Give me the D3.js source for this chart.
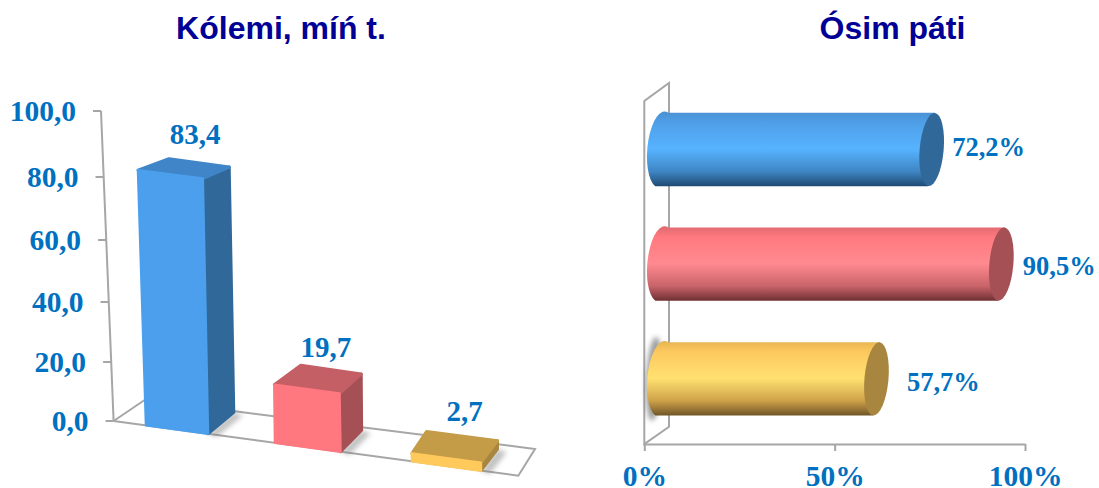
<!DOCTYPE html>
<html>
<head>
<meta charset="utf-8">
<script src="https://cdn.jsdelivr.net/npm/d3@7"></script>
<style>
html,body{margin:0;padding:0;background:#fff;overflow:hidden}
svg{display:block}
text{font-family:"Liberation Serif",serif;font-weight:bold;fill:#0070c0}
text.title{font-family:"Liberation Sans",sans-serif;fill:#000096}
</style>
</head>
<body>
<svg id="c" width="1099" height="488"></svg>
<script>
const seriesKeys = ["a", "b", "c"];
const volumeTitle = "Kólemi, míń t.";
const growthTitle = "Ósim páti";
const volumeValues = [83.4, 19.7, 2.7];
const growthValues = [72.2, 90.5, 57.7];
const volumeTicks = [0, 20, 40, 60, 80, 100];
const growthTicks = [0, 50, 100];
const frontColors = ["#4b9fec", "#ff7880", "#ffc95c"];
const sideColors = ["#31689a", "#a55055", "#a98640"];
const topColors = ["#3f85c8", "#c35f65", "#c49c48"];
const cylStops = [
  ["#4a90d2", "#4f9fe8", "#57b3ff", "#3f86c4", "#1f4a73"],
  ["#e0686f", "#ff7a80", "#ff8a90", "#c9646a", "#6e2f33"],
  ["#e6b350", "#fdc95f", "#ffe170", "#cfa24a", "#6f5526"]
];

const loc = d3.formatLocale({decimal: ",", thousands: " ", grouping: [3], currency: ["", ""]});
const f1 = loc.format(".1f");
const svg = d3.select("#c");
const defs = svg.append("defs");
const AXIS = "#a6a6a6";
defs.append("filter").attr("id", "blur").attr("x", "-50%").attr("y", "-50%").attr("width", "200%").attr("height", "200%")
  .append("feGaussianBlur").attr("stdDeviation", 2.5);
const lineGen = d3.line();

/* ---------- left chart ---------- */
svg.append("text").attr("class", "title").attr("x", 281).attr("y", 39).attr("text-anchor", "middle")
  .attr("font-size", 32).text(volumeTitle);

// perspective-compressed value axis
const yL = d3.scaleLinear().domain(volumeTicks).range([421, 362, 302, 240, 177, 111]);
const axisX = d3.scaleLinear().domain([0, 100]).range([113.6, 101]);
const floorLine = d3.scaleLinear().domain([113.6, 518.3]).range([421, 475.7]);

const gL = svg.append("g");
gL.append("path").attr("d", lineGen([[113.6, 421], [144.6, 400]])).attr("fill", "none").attr("stroke", AXIS).attr("stroke-width", 2);
gL.append("path").attr("d", lineGen([[233, 411], [535, 449], [518.3, 475.7], [113.6, 421]]))
  .attr("fill", "none").attr("stroke", AXIS).attr("stroke-width", 2);
gL.append("path").attr("d", lineGen([[axisX(100), yL(100)], [axisX(0), yL(0)]])).attr("stroke", AXIS).attr("stroke-width", 2).attr("fill", "none");
const tickL = gL.selectAll("g.t").data(volumeTicks).join("g").attr("class", "t");
tickL.append("line").attr("x1", d => axisX(d) - 8).attr("x2", d => axisX(d))
  .attr("y1", d => yL(d)).attr("y2", d => yL(d)).attr("stroke", AXIS).attr("stroke-width", 2);
tickL.append("text").attr("x", d => axisX(d) - 25).attr("y", d => yL(d) + 10)
  .attr("text-anchor", "end").attr("font-size", 29.5).text(d => f1(d));

const xL = d3.scaleOrdinal().domain(seriesKeys).range([146, 275, 412]);
const wL = d3.scaleLinear().domain([0, 2]).range([62, 69]);
const shearL = d3.scaleLinear().domain([0, 58, 255]).range([0, 0.7, 8]);
const shearR = d3.scaleLinear().domain([0, 58, 255]).range([0, 1, 5.2]);
const backDy = d3.scaleLinear().domain([7, 58, 255]).range([-22, -19.5, -11.5]);
const backDxL = d3.scaleLinear().domain([7, 58, 255]).range([14.5, 26.5, 31]);
const backDxR = d3.scaleLinear().domain([7, 58, 255]).range([16.5, 21.7, 26.4]);
const baseDx = d3.scaleLinear().domain([0, 2]).range([25.8, 16.5]);
const labelNudgeL = [-15, -8, -10.6];

const bars = seriesKeys.map((k, i) => {
  const h = yL(0) - yL(volumeValues[i]);
  const x0 = xL(k), w = wL(i);
  const BL = [x0, floorLine(x0)], BR = [x0 + w, floorLine(x0 + w)];
  const TL = [BL[0] - shearL(h), BL[1] - h], TR = [BR[0] - shearR(h), BR[1] - h];
  const TLb = [TL[0] + backDxL(h), TL[1] + backDy(h)], TRb = [TR[0] + backDxR(h), TR[1] + backDy(h)];
  const BRb = [BR[0] + baseDx(i), BR[1] - 21.5];
  return {i, BL, BR, TL, TR, TLb, TRb, BRb, x0, w};
});
const poly = pts => lineGen(pts) + "Z";
const gB = svg.append("g").attr("stroke-linejoin", "round");
gB.selectAll("path.shadow").data(bars).join("path").attr("class", "shadow")
  .attr("d", b => poly([b.BR, b.BRb, [b.BRb[0] + 9, b.BRb[1] + 3], [b.BR[0] + 9, b.BR[1] + 3]]))
  .attr("fill", "#777").attr("opacity", 0.45).attr("filter", "url(#blur)");
gB.selectAll("path.side").data(bars).join("path").attr("class", "side")
  .attr("d", b => poly([b.BR, b.TR, b.TRb, b.BRb])).attr("fill", b => sideColors[b.i]).attr("stroke", b => sideColors[b.i]).attr("stroke-width", 3);
gB.selectAll("path.top").data(bars).join("path").attr("class", "top")
  .attr("d", b => poly([b.TL, b.TLb, b.TRb, b.TR])).attr("fill", b => topColors[b.i]).attr("stroke", b => topColors[b.i]).attr("stroke-width", 3);
gB.selectAll("path.front").data(bars).join("path").attr("class", "front")
  .attr("d", b => poly([b.BL, b.TL, b.TR, b.BR])).attr("fill", b => frontColors[b.i]).attr("stroke", b => frontColors[b.i]).attr("stroke-width", 2.5);
gB.selectAll("text").data(bars).join("text")
  .attr("x", b => b.x0 + b.w / 2 + 18).attr("y", b => b.TLb[1] + labelNudgeL[b.i])
  .attr("text-anchor", "middle").attr("font-size", 29).text(b => f1(volumeValues[b.i]));

/* ---------- right chart ---------- */
svg.append("text").attr("class", "title").attr("x", 892.5).attr("y", 39).attr("text-anchor", "middle")
  .attr("font-size", 32).text(growthTitle);

const xR = d3.scaleLinear().domain([0, 100]).range([644.3, 1025]);
const yR = d3.scaleBand().domain(seriesKeys).range([92.15, 436.2]).paddingInner(0.36).paddingOuter(0.18);
const gR = svg.append("g");
gR.append("path").attr("d", poly([[644.3, 444], [644.3, 101], [669, 83], [669, 426.7]]))
  .attr("fill", "none").attr("stroke", AXIS).attr("stroke-width", 2);
const axisB = d3.axisBottom(xR).tickValues(growthTicks).tickSize(7).tickSizeOuter(0).tickFormat(d => d + "%");
const gAx = gR.append("g").attr("transform", "translate(0,444)").call(axisB);
gAx.select(".domain").attr("stroke", AXIS).attr("stroke-width", 2);
gAx.selectAll(".tick line").attr("stroke", AXIS).attr("stroke-width", 2);
gAx.selectAll(".tick text").attr("y", 42).attr("dy", 0).attr("font-size", 29.5).attr("font-family", null);

seriesKeys.forEach((k, i) => {
  const g = defs.append("linearGradient").attr("id", "cyl" + i).attr("x1", 0).attr("x2", 0).attr("y1", 0).attr("y2", 1);
  [0, 0.15, 0.5, 0.8, 1].forEach((o, j) => g.append("stop").attr("offset", o).attr("stop-color", cylStops[i][j]));
});
// halo behind the yellow cylinder's base
const hk = seriesKeys[2];
gR.append("ellipse").attr("cx", 654).attr("cy", yR(hk) + yR.bandwidth() / 2).attr("rx", 8).attr("ry", 42)
  .attr("fill", "#777").attr("opacity", 0.7).attr("filter", "url(#blur)")
  .attr("transform", `rotate(3 654 ${yR(hk) + yR.bandwidth() / 2})`);

const labelDx = [33, 34, 43], labelDy = [6.5, 10.7, 12];
const cyl = gR.selectAll("g.cyl").data(seriesKeys).join("g").attr("class", "cyl");
const ry = yR.bandwidth() / 2;
cyl.append("path").attr("d", (k, i) => {
  const t = yR(k), b = t + yR.bandwidth(), x = xR(growthValues[i]), x0 = xR(0);
  return `M${x0 + 24},${t}L${x + 16},${t}L${x + 9},${b}L${x0 + 11},${b}A14,${ry} 5 0 1 ${x0 + 24},${t}Z`;
}).attr("fill", (k, i) => `url(#cyl${i})`);
cyl.append("ellipse")
  .attr("cx", 0).attr("cy", 0).attr("rx", 12).attr("ry", ry)
  .attr("transform", (k, i) => `translate(${xR(growthValues[i]) + 12.5},${yR(k) + ry}) rotate(5)`)
  .attr("fill", (k, i) => sideColors[i]);
cyl.append("text")
  .attr("x", (k, i) => xR(growthValues[i]) + labelDx[i])
  .attr("y", (k, i) => yR(k) + ry + labelDy[i])
  .attr("font-size", 26.5).text((k, i) => f1(growthValues[i]) + "%");
</script>
</body>
</html>
